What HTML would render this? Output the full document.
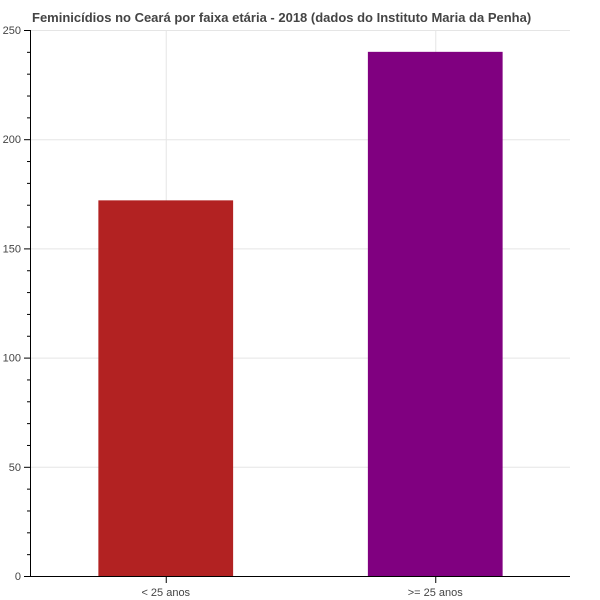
<!DOCTYPE html>
<html><head><meta charset="utf-8"><style>
body{margin:0;background:#fff;}
svg{display:block;font-family:"Liberation Sans",sans-serif;}
</style></head><body>
<svg id="chart" width="600" height="600"></svg>
<script>
const categories = ["< 25 anos", ">= 25 anos"];
const values = [172, 240];
const colors = ["#b22222", "#800080"];
const yTicks = [0, 50, 100, 150, 200, 250];
const yMax = 250;
const L = 31, R = 570, T = 30, B = 576;
const NS = "http://www.w3.org/2000/svg";
const svg = document.getElementById("chart");
function mk(tag, attrs, parent) {
  const e = document.createElementNS(NS, tag);
  for (const k in attrs) e.setAttribute(k, attrs[k]);
  (parent || svg).appendChild(e);
  return e;
}
const y = v => B - (v / yMax) * (B - T);
const band = (R - L) / categories.length;
const xc = i => L + band * (i + 0.5);

const title = mk("text", {x: 32, y: 22, "font-size": 13, "font-weight": "bold", fill: "#444"});
title.textContent = "Feminicídios no Ceará por faixa etária - 2018 (dados do Instituto Maria da Penha)";



// grid
yTicks.forEach(t => {
  const g = mk("line", {x1: L, x2: R, y1: y(t) + 0.5, y2: y(t) + 0.5, stroke: "#e5e5e5", "stroke-width": 1});
  
  
});
categories.forEach((c, i) => {
  const g = mk("line", {x1: xc(i) + 0.5, x2: xc(i) + 0.5, y1: T, y2: B, stroke: "#e5e5e5", "stroke-width": 1});
  
  
});

// bars
categories.forEach((c, i) => {
  const w = band * 0.5;
  const r = mk("rect", {x: xc(i) - w / 2, y: y(values[i]), width: w, height: B - y(values[i]), fill: colors[i]});
  
  
});

// y axis
const ya = mk("line", {x1: L - 0.5, x2: L - 0.5, y1: T, y2: B, stroke: "#000", "stroke-width": 1});


for (let v = 0; v <= yMax; v += 10) {
  const major = v % 50 === 0;
  mk("line", {x1: L - (major ? 7 : 4), x2: L, y1: y(v) + 0.5, y2: y(v) + 0.5, stroke: "#000", "stroke-width": 1});
}
yTicks.forEach(t => {
  const tx = mk("text", {x: L - 10, y: y(t) + 4, "font-size": 11, fill: "#444", "text-anchor": "end"});
  tx.textContent = t;
  
  
});

// x axis
const xa = mk("line", {x1: L - 1, x2: R, y1: B + 0.5, y2: B + 0.5, stroke: "#000", "stroke-width": 1});


categories.forEach((c, i) => {
  mk("line", {x1: xc(i) + 0.5, x2: xc(i) + 0.5, y1: B, y2: B + 7, stroke: "#000", "stroke-width": 1});
  const tx = mk("text", {x: xc(i), y: B + 20, "font-size": 11, fill: "#444", "text-anchor": "middle"});
  tx.textContent = c;
  
  
});
</script>
</body></html>
